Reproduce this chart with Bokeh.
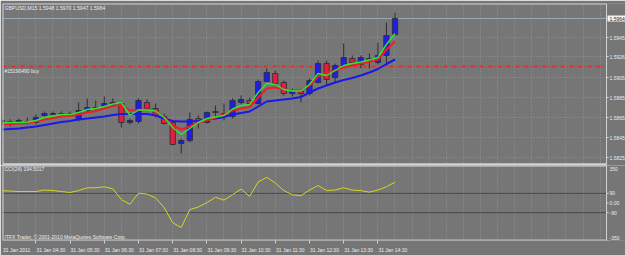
from bokeh.plotting import figure
from bokeh.models import (Range1d, LinearAxis, FixedTicker, Grid, Label, ColumnDataSource)
from bokeh.core.properties import value
from bokeh.layouts import column
from bokeh.embed import file_html
from bokeh.resources import INLINE

# ---------------- data ----------------
bars = list(range(47))
opens = [1.5859, 1.5861, 1.5859, 1.5861, 1.5860, 1.5867, 1.5868, 1.5868, 1.5869, 1.5863,
         1.5872, 1.5874, 1.5876, 1.5878, 1.5879, 1.5860, 1.5861, 1.5880, 1.5874, 1.5866,
         1.5860, 1.5839, 1.5842, 1.5864, 1.5860, 1.5871, 1.5869, 1.5866, 1.5880, 1.5882,
         1.5879, 1.5901, 1.5909, 1.5900, 1.5889, 1.5891, 1.5889, 1.5900, 1.5919, 1.5905,
         1.5917, 1.5924, 1.5918, 1.5924, 1.5920, 1.5927, 1.5948]
highs = [1.5864, 1.5863, 1.5864, 1.5865, 1.5868, 1.5871, 1.5871, 1.5871, 1.5871, 1.5880,
         1.5884, 1.5882, 1.5886, 1.5884, 1.5881, 1.5864, 1.5884, 1.5883, 1.5879, 1.5869,
         1.5862, 1.5844, 1.5870, 1.5867, 1.5871, 1.5877, 1.5879, 1.5884, 1.5887, 1.5885,
         1.5903, 1.5914, 1.5912, 1.5902, 1.5894, 1.5893, 1.5904, 1.5922, 1.5922, 1.5919,
         1.5939, 1.5927, 1.5927, 1.5929, 1.5940, 1.5960, 1.5970]
lows = [1.5857, 1.5856, 1.5858, 1.5858, 1.5858, 1.5865, 1.5866, 1.5866, 1.5866, 1.5861,
        1.5870, 1.5872, 1.5875, 1.5876, 1.5855, 1.5858, 1.5859, 1.5872, 1.5865, 1.5858,
        1.5837, 1.5829, 1.5840, 1.5854, 1.5859, 1.5865, 1.5862, 1.5864, 1.5878, 1.5877,
        1.5878, 1.5900, 1.5897, 1.5887, 1.5886, 1.5880, 1.5887, 1.5899, 1.5897, 1.5900,
        1.5916, 1.5918, 1.5914, 1.5914, 1.5918, 1.5917, 1.5947]
closes = [1.5862, 1.5858, 1.5862, 1.5860, 1.5865, 1.5869, 1.5869, 1.5869, 1.5867, 1.5872,
          1.5875, 1.5875, 1.5879, 1.5880, 1.5860, 1.5862, 1.5882, 1.5874, 1.5867, 1.5859,
          1.5838, 1.5842, 1.5863, 1.5861, 1.5870, 1.5870, 1.5866, 1.5882, 1.5883, 1.5879,
          1.5901, 1.5910, 1.5899, 1.5889, 1.5892, 1.5889, 1.5902, 1.5919, 1.5903, 1.5917,
          1.5925, 1.5920, 1.5925, 1.5922, 1.5927, 1.5947, 1.5964]

ma_slow = [1.5853, 1.58535, 1.5854, 1.5855, 1.5856, 1.58575, 1.5859, 1.58605, 1.58615, 1.5863,
           1.5864, 1.5865, 1.5866, 1.58675, 1.58685, 1.58685, 1.58685, 1.58685, 1.5867, 1.5864,
           1.58615, 1.5861, 1.5861, 1.58615, 1.5863, 1.5864, 1.58655, 1.5868, 1.58695, 1.5871,
           1.5876, 1.5881, 1.5882, 1.5883, 1.5884, 1.58855, 1.5890, 1.5894, 1.5897, 1.5900,
           1.59025, 1.59045, 1.5907, 1.5910, 1.59135, 1.59185, 1.5923]
ma_mid = [1.5858, 1.58585, 1.5859, 1.58595, 1.5861, 1.5863, 1.58645, 1.5866, 1.58665, 1.5868,
          1.5870, 1.58715, 1.5874, 1.58765, 1.58775, 1.5872, 1.58725, 1.5873, 1.5872, 1.5865,
          1.5857, 1.5853, 1.5856, 1.5860, 1.5862, 1.5865, 1.5868, 1.5872, 1.5874, 1.58755,
          1.5885, 1.5894, 1.5895, 1.5893, 1.5892, 1.5892, 1.5897, 1.5906, 1.5910, 1.5912,
          1.5915, 1.5917, 1.5919, 1.59205, 1.5923, 1.5933, 1.5941]
ma_fast = [1.58595, 1.5860, 1.5860, 1.58605, 1.5862, 1.5865, 1.58665, 1.5868, 1.5868, 1.5870,
           1.5873, 1.5874, 1.5876, 1.58785, 1.5880, 1.5867, 1.58725, 1.58725, 1.58715, 1.5865,
           1.5855, 1.5848, 1.5854, 1.5860, 1.5864, 1.58655, 1.5867, 1.58735, 1.5877, 1.5878,
           1.5890, 1.5899, 1.5898, 1.5893, 1.58915, 1.58915, 1.5898, 1.5909, 1.5907, 1.5912,
           1.5917, 1.5919, 1.59205, 1.59225, 1.5925, 1.5938, 1.5949]

cci = [116, 111, 107, 107, 107, 121, 116, 107, 98, 116,
       142, 142, 151, 132, 32, -12, 92, 83, 47, -42,
       -184, -229, -62, -37, 3, 53, 27, 77, 130, 62,
       196, 240, 187, 116, 77, 68, 121, 163, 116, 121,
       142, 121, 116, 101, 121, 151, 194.5]

time_bars = [0, 4, 8, 12, 16, 20, 24, 28, 32, 36, 40, 44]
time_labels = ["31 Jan 2011", "31 Jan 04:30", "31 Jan 05:30", "31 Jan 06:30",
               "31 Jan 07:30", "31 Jan 08:30", "31 Jan 09:30", "31 Jan 10:30",
               "31 Jan 11:30", "31 Jan 12:30", "31 Jan 13:30", "31 Jan 14:30"]
price_ticks = [1.5825, 1.5845, 1.5865, 1.5885, 1.5905, 1.5926, 1.5945]
bid_price = 1.5964
order_price = 1.5916
order_sl = 1.5909
cci_ticks_mid = [90, 0, -90]
cci_labels_mid = ["90", "0.00", "-90"]
cci_max, cci_min = 350, -350
cci_levels = [90, -90]
title_text = "GBPUSD,M15  1.5948 1.5970 1.5947 1.5964"
order_text = "#15196490 buy"
cci_text = "CCI(24) 194.5017"
copy_text = "ITFX Trader, \u00a9 2001-2010 MetaQuotes Software Corp."

# ---------------- style / layout constants ----------------
BG = "#767676"
BORDER = "#d2d2d2"
TXT = "#ececec"
GRIDC = "#939caa"
FONT = "Liberation Sans"
FS = "5px"
FS_T = "5.1px"
BULL = "#1f1fe0"
BEAR = "#e0203c"
X0 = 0.0936          # left frame edge (bar units)
X_AX = 70.74         # price-scale line (bar units)
X_END = 72.96        # right canvas edge (bar units)
P_TOP, P_BOT = 1.5979, 1.5817
TXT_KW = dict(text_font=value(FONT), text_font_size=value(FS), text_align="left")

src = ColumnDataSource(dict(
    x=bars, o=opens, h=highs, l=lows, c=closes,
    top=[max(a, b) for a, b in zip(opens, closes)],
    bot=[min(a, b) for a, b in zip(opens, closes)],
    col=[BULL if c >= o else BEAR for o, c in zip(opens, closes)],
))
even_bars = list(range(0, 72, 2))

# ---------------- main price panel ----------------
p = figure(width=625, height=165, x_range=Range1d(X0, X_END), y_range=Range1d(P_BOT, P_TOP),
           output_backend="svg", toolbar_location=None,
           x_axis_location=None, y_axis_location=None,
           min_border_left=2, min_border_right=0, min_border_top=3, min_border_bottom=0,
           background_fill_color=BG, border_fill_color=BG, outline_line_color=None)
p.grid.visible = False
p.add_layout(Grid(dimension=0, ticker=FixedTicker(ticks=even_bars),
                  grid_line_color=GRIDC, grid_line_dash="1 2", grid_line_alpha=0.75))
p.add_layout(Grid(dimension=1, ticker=FixedTicker(ticks=price_ticks),
                  grid_line_color=GRIDC, grid_line_dash="1 2", grid_line_alpha=0.75))

p.segment(x0=[X0], y0=[bid_price], x1=[X_AX], y1=[bid_price], line_color="#98a6b8", line_width=1)
p.segment(x0=[X0], y0=[order_price], x1=[X_AX], y1=[order_price], line_color="#e02a2a",
          line_width=1.3, line_dash="4 2 1 2")
p.segment(x0=[X0], y0=[order_sl], x1=[X_AX], y1=[order_sl], line_color="#2ea82e",
          line_width=1, line_dash="4 2 1 2")

p.segment(x0="x", y0="l", x1="x", y1="h", source=src, line_color="#2e2e2e", line_width=1)
p.vbar(x="x", width=0.62, top="top", bottom="bot", source=src,
       fill_color="col", line_color="#2a2a3a", line_width=0.8)

p.line(bars, ma_slow, line_color="#1a1ae8", line_width=2)
p.line(bars, ma_mid, line_color="#f01c2c", line_width=2)
p.line(bars, ma_fast, line_color="#2ee82e", line_width=1.4)

# price scale strip on the right
p.quad(left=[X_AX], right=[X_END + 1], top=[P_TOP + 0.001], bottom=[P_BOT - 0.001],
       fill_color=BG, line_color=None)
p.quad(left=[X0 + 0.06], right=[X_AX], top=[P_TOP - 0.00005], bottom=[P_BOT + 0.0001],
       fill_color=None, line_color=BORDER, line_width=1)
p.segment(x0=[X0], y0=[P_BOT + 0.0001], x1=[X_AX], y1=[P_BOT + 0.0001],
          line_color=BORDER, line_width=2.5)
p.segment(x0=[X_AX] * len(price_ticks), y0=price_ticks,
          x1=[X_AX + 0.25] * len(price_ticks), y1=price_ticks,
          line_color=BORDER, line_width=1)
p.text(x=[X_AX] * len(price_ticks), y=price_ticks, text=[f"{t:.4f}" for t in price_ticks],
       x_offset=3, text_baseline="middle", text_color=TXT, **TXT_KW)
p.quad(left=[X_AX + 0.12], right=[X_END + 1], top=[bid_price + 0.0003],
       bottom=[bid_price - 0.0003], fill_color="#f4f4f4", line_color=None)
p.text(x=[X_AX], y=[bid_price], text=[f"{bid_price:.4f}"],
       x_offset=3, text_baseline="middle", text_color="#1e1e1e", **TXT_KW)

p.add_layout(Label(x=X0, y=1.5975, x_offset=2, text=title_text, text_font=FONT,
                   text_font_size=FS_T, text_color=TXT, text_baseline="middle"))
p.add_layout(Label(x=X0, y=1.5912, x_offset=2, text=order_text, text_font=FONT,
                   text_font_size=FS, text_color=TXT, text_baseline="middle"))

# ---------------- CCI panel ----------------
q = figure(width=625, height=90, x_range=Range1d(X0, X_END), y_range=Range1d(cci_min, cci_max),
           output_backend="svg", toolbar_location=None,
           x_axis_location=None, y_axis_location=None,
           min_border_left=2, min_border_right=0, min_border_top=0, min_border_bottom=10,
           background_fill_color=BG, border_fill_color=BG, outline_line_color=None)
q.grid.visible = False
q.add_layout(Grid(dimension=0, ticker=FixedTicker(ticks=even_bars),
                  grid_line_color=GRIDC, grid_line_dash="1 2", grid_line_alpha=0.75))
q.segment(x0=[X0] * len(cci_levels), y0=cci_levels, x1=[X_AX] * len(cci_levels), y1=cci_levels,
          line_color="#1a1a1a", line_width=1, line_dash="1 1")
q.line(bars, cci, line_color="#d6d620", line_width=1)

q.quad(left=[X_AX], right=[X_END + 1], top=[cci_max + 50], bottom=[cci_min - 50],
       fill_color=BG, line_color=None)
q.quad(left=[X0 + 0.06], right=[X_AX], top=[cci_max - 5], bottom=[cci_min + 4],
       fill_color=None, line_color=BORDER, line_width=1)
all_cci_ticks = [cci_max] + cci_ticks_mid + [cci_min]
q.segment(x0=[X_AX] * len(all_cci_ticks), y0=all_cci_ticks,
          x1=[X_AX + 0.25] * len(all_cci_ticks), y1=all_cci_ticks,
          line_color=BORDER, line_width=1)
q.text(x=[X_AX] * len(cci_ticks_mid), y=cci_ticks_mid, text=cci_labels_mid,
       x_offset=3, text_baseline="middle", text_color=TXT, **TXT_KW)
q.text(x=[X_AX], y=[cci_max], text=[str(cci_max)], x_offset=3, y_offset=1,
       text_baseline="top", text_color=TXT, **TXT_KW)
q.text(x=[X_AX], y=[cci_min], text=[str(cci_min)], x_offset=3, y_offset=-1,
       text_baseline="bottom", text_color=TXT, **TXT_KW)

label_pos = [b + 1.75 for b in time_bars]
xax = LinearAxis(ticker=FixedTicker(ticks=label_pos, minor_ticks=time_bars),
                 major_label_overrides={lp: t for lp, t in zip(label_pos, time_labels)},
                 axis_line_color=None, major_tick_out=0, major_tick_in=0,
                 major_tick_line_color=None,
                 minor_tick_out=3, minor_tick_in=0, minor_tick_line_color=BORDER,
                 major_label_standoff=3, major_label_text_font_size=FS,
                 major_label_text_font=FONT, major_label_text_color=TXT)
q.add_layout(xax, "below")

q.add_layout(Label(x=X0, y=314, x_offset=2, text=cci_text, text_font=FONT,
                   text_font_size=FS, text_color=TXT, text_baseline="middle"))
q.add_layout(Label(x=X0, y=-318, x_offset=2, text=copy_text, text_font=FONT,
                   text_font_size=FS, text_color=TXT, text_baseline="middle"))

layout = column(p, q, spacing=0)
open("out.html", "w").write(file_html(layout, INLINE))
